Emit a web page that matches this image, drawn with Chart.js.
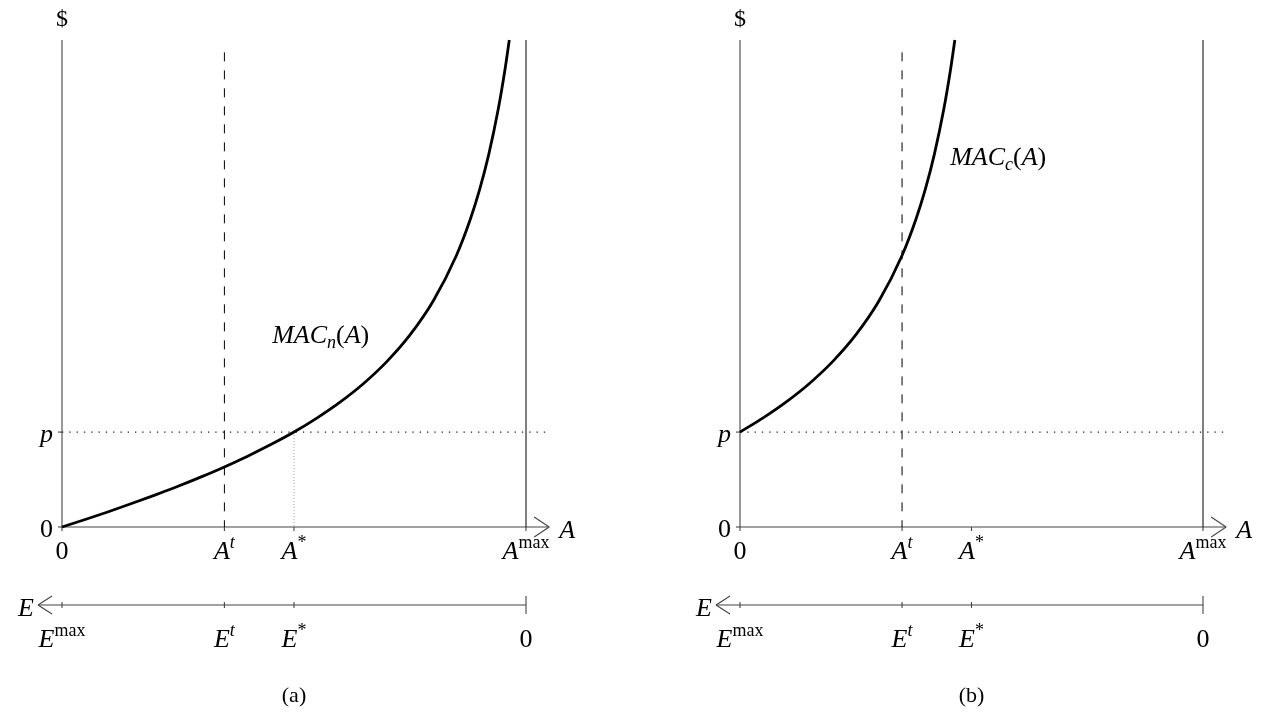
<!DOCTYPE html>
<html>
<head>
<meta charset="UTF-8">
<title>MAC</title>
<script src="https://cdn.jsdelivr.net/npm/chart.js@4.4.1/dist/chart.umd.min.js"></script>
<style>
  body { margin: 0; background: #fff; }
  .panel { position: absolute; top: 0; width: 633px; height: 713px; }
  #left { left: 0; }
  #right { left: 633px; }
</style>
</head>
<body>
<div class="panel" id="left"><canvas id="chart-a" width="633" height="713"></canvas></div>
<div class="panel" id="right"><canvas id="chart-b" width="633" height="713"></canvas></div>
<script>
// abatement as a share of A^max, $ in units of p
const aTicks = [0, 0.35, 0.5, 1];
const aLabels = ['0', 'A^t', 'A^*', 'A^max'];
const eLabels = ['E^max', 'E^t', 'E^*', '0'];
const yTicks = [0, 1];
const yLabels = ['0', 'p'];
const yTop = 5.13;
const dashTop = 5.0;
const pEnd = 1.05;

// MAC_n(A), panel (a)
const macNA = [0, 0.05, 0.1, 0.15, 0.2, 0.25, 0.3, 0.35, 0.4, 0.45, 0.5, 0.55, 0.6, 0.65, 0.7, 0.75,
  0.8, 0.85, 0.88, 0.9, 0.92, 0.94, 0.955, 0.964];
const macNY = [0, 0.079, 0.161, 0.247, 0.336, 0.429, 0.528, 0.633, 0.746, 0.868, 1.0, 1.15, 1.318, 1.512,
  1.742, 2.023, 2.38, 2.86, 3.241, 3.553, 3.931, 4.397, 4.828, 5.13];
// MAC_c(A), panel (b)
const macCA = [0, 0.05, 0.1, 0.15, 0.2, 0.25, 0.3, 0.35, 0.38, 0.4, 0.42, 0.44, 0.455, 0.464];
const macCY = [1.0, 1.15, 1.318, 1.512, 1.742, 2.023, 2.38, 2.86, 3.241, 3.553, 3.931, 4.397, 4.828, 5.13];

const FONT = "'Liberation Serif', 'DejaVu Serif', serif";
const SIZE = 26;

// split "A^max" / "MAC_n(A)" into runs of base / script text
function runs(label, upright) {
  const out = [];
  let mode = 'n';
  for (const c of label) {
    if (c === '^' || c === '_') { mode = c; continue; }
    if (c === '(') mode = 'n';
    const up = upright || !/[A-Za-z]/.test(c) || (mode === '^' && label.includes('max'));
    out.push({ c, mode, it: !up });
  }
  return out;
}

function fontFor(r, size) {
  const s = r.mode === 'n' ? size : Math.round(size * 0.7);
  return (r.it ? 'italic ' : '') + s + 'px ' + FONT;
}

function mathText(ctx, label, x, y, align, size, upright) {
  size = size || SIZE;
  const rs = runs(label, upright);
  let w = 0;
  rs.forEach(r => { ctx.font = fontFor(r, size); r.w = ctx.measureText(r.c).width; w += r.w; });
  let cx = align === 'center' ? x - w / 2 : align === 'right' ? x - w : x;
  ctx.textAlign = 'left';
  ctx.textBaseline = 'alphabetic';
  ctx.fillStyle = '#000';
  rs.forEach(r => {
    ctx.font = fontFor(r, size);
    const dy = r.mode === '^' ? -size * 0.42 : r.mode === '_' ? size * 0.18 : 0;
    ctx.fillText(r.c, cx, y + dy);
    cx += r.w;
  });
}

function line(ctx, x1, y1, x2, y2) {
  ctx.beginPath();
  ctx.moveTo(x1, y1);
  ctx.lineTo(x2, y2);
  ctx.stroke();
}

const econPlugin = {
  id: 'econ',
  beforeDatasetsDraw(chart, args, opts) {
    const ctx = chart.ctx, xs = chart.scales.x, ys = chart.scales.y;
    const x0 = xs.getPixelForValue(0), x1 = xs.getPixelForValue(1), xe = xs.getPixelForValue(pEnd);
    const y0 = ys.getPixelForValue(0), yt = ys.getPixelForValue(yTop);
    const ye = y0 + 78;
    ctx.save();
    ctx.strokeStyle = '#444';
    ctx.lineWidth = 1.1;
    // $ axis and A axis
    line(ctx, x0, yt, x0, y0);
    line(ctx, x0, y0, xe, y0);
    line(ctx, xe - 15, y0 - 10, xe, y0);
    line(ctx, xe - 15, y0 + 10, xe, y0);
    yTicks.forEach(v => { const y = ys.getPixelForValue(v); line(ctx, x0 - 4, y, x0, y); });
    aTicks.forEach(v => { const x = xs.getPixelForValue(v); line(ctx, x, y0, x, y0 + 4); });
    // E axis, running the other way
    const xl = x0 - 24;
    line(ctx, xl, ye, x1, ye);
    line(ctx, xl + 14, ye - 9, xl, ye);
    line(ctx, xl + 14, ye + 9, xl, ye);
    aTicks.forEach((v, i) => {
      const x = xs.getPixelForValue(v);
      const h = i === aTicks.length - 1 ? 9 : 3;
      line(ctx, x, ye - h, x, ye + h);
    });
    ctx.restore();
  },
  afterDraw(chart, args, opts) {
    const ctx = chart.ctx, xs = chart.scales.x, ys = chart.scales.y;
    const x0 = xs.getPixelForValue(0), x1 = xs.getPixelForValue(1), xe = xs.getPixelForValue(pEnd);
    const y0 = ys.getPixelForValue(0), yt = ys.getPixelForValue(yTop);
    const ye = y0 + 78;
    ctx.save();
    mathText(ctx, '$', x0, yt - 14, 'center', 24);
    yLabels.forEach((t, i) => mathText(ctx, t, x0 - 9, ys.getPixelForValue(yTicks[i]) + 10, 'right'));
    aLabels.forEach((t, i) => mathText(ctx, t, xs.getPixelForValue(aTicks[i]), y0 + 32, 'center'));
    mathText(ctx, 'A', xe + 10, y0 + 11, 'left');
    mathText(ctx, 'E', x0 - 28, ye + 11, 'right');
    eLabels.forEach((t, i) => mathText(ctx, t, xs.getPixelForValue(aTicks[i]), ye + 42, 'center'));
    mathText(ctx, opts.curveLabel, xs.getPixelForValue(opts.labelAt[0]), ys.getPixelForValue(opts.labelAt[1]), 'left');
    mathText(ctx, opts.caption, (x0 + x1) / 2, y0 + 175, 'center', 22, true);
    ctx.restore();
  }
};

function makeChart(id, curveA, curveY, cfg) {
  const datasets = [
    { data: curveA.map((a, i) => ({ x: a, y: curveY[i] })), borderColor: '#000', borderWidth: 2.8,
      cubicInterpolationMode: 'monotone' },
    { data: [{ x: 1, y: 0 }, { x: 1, y: yTop }], borderColor: '#000', borderWidth: 1, tension: 0 },
    { data: [{ x: aTicks[1], y: dashTop }, { x: aTicks[1], y: 0 }], borderColor: '#000', borderWidth: 1,
      borderDash: [9, 9], tension: 0 },
    { data: [{ x: 0, y: yTicks[1] }, { x: pEnd, y: yTicks[1] }], borderColor: '#222', borderWidth: 1.2,
      borderDash: [1.3, 6], tension: 0 }
  ];
  if (cfg.starDrop) {
    datasets.push({ data: [{ x: aTicks[2], y: yTicks[1] }, { x: aTicks[2], y: 0 }], borderColor: '#999',
      borderWidth: 1, borderDash: [1, 2], tension: 0 });
  }
  datasets.forEach(d => { d.pointRadius = 0; d.fill = false; d.clip = false; });
  return new Chart(document.getElementById(id), {
    type: 'line',
    data: { datasets },
    options: {
      responsive: false,
      animation: false,
      devicePixelRatio: 1,
      layout: { padding: cfg.padding },
      scales: {
        x: { type: 'linear', min: 0, max: 1, display: false },
        y: { type: 'linear', min: 0, max: yTop, display: false }
      },
      plugins: { legend: { display: false }, tooltip: { enabled: false }, econ: cfg }
    },
    plugins: [econPlugin]
  });
}

makeChart('chart-a', macNA, macNY, {
  padding: { left: 62, right: 107, top: 40, bottom: 186 },
  curveLabel: 'MAC_n(A)', labelAt: [0.453, 1.94], caption: '(a)', starDrop: true
});
makeChart('chart-b', macCA, macCY, {
  padding: { left: 107, right: 63, top: 40, bottom: 186 },
  curveLabel: 'MAC_c(A)', labelAt: [0.454, 3.81], caption: '(b)', starDrop: false
});
</script>
</body>
</html>
